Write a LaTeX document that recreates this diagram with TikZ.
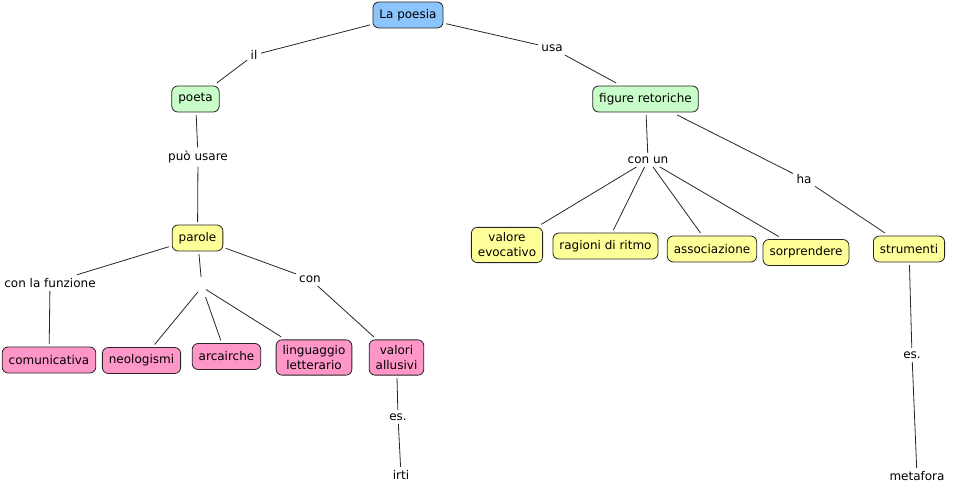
\documentclass[tikz,border=0pt]{standalone}
\usepackage{fontspec}
\setmainfont{DejaVu Sans}
\definecolor{cblue}{RGB}{140,196,252}
\definecolor{cgreen}{RGB}{200,252,200}
\definecolor{cyellow}{RGB}{255,255,153}
\definecolor{cpink}{RGB}{255,150,200}
\tikzset{
  concept/.style={draw=black!85, line width=0.8pt, rounded corners=6pt, inner xsep=6.5pt, inner ysep=5.5pt,
    minimum height=26pt, align=center, font=\fontsize{12}{15}\selectfont, outer sep=3pt},
  lbl/.style={inner sep=1.5pt, outer sep=2pt, font=\fontsize{12}{14.5}\selectfont},
  link/.style={draw=black!85, line width=0.8pt},
}
\begin{document}
\begin{tikzpicture}[x=1pt,y=-1pt]
\useasboundingbox (0,0) rectangle (954,490);
% concepts
\node[concept, fill=cblue] (poesia) at (408,15) {La poesia};
\node[concept, fill=cgreen] (poeta) at (195.5,99) {poeta};
\node[concept, fill=cgreen] (figure) at (645.5,99) {figure retoriche};
\node[concept, fill=cyellow] (parole) at (197.5,238) {parole};
\node[concept, fill=cpink] (comun) at (49,360) {comunicativa};
\node[concept, fill=cpink] (neo) at (141.5,360.5) {neologismi};
\node[concept, fill=cpink] (arca) at (226.5,356.5) {arcairche};
\node[concept, fill=cpink] (lingu) at (314,357.5) {linguaggio\\ letterario};
\node[concept, fill=cpink] (valori) at (396.5,357.5) {valori\\allusivi};
\node[concept, fill=cyellow] (evoc) at (507,245) {valore\\evocativo};
\node[concept, fill=cyellow] (ritmo) at (605.5,246) {ragioni di ritmo};
\node[concept, fill=cyellow] (assoc) at (712,249) {associazione};
\node[concept, fill=cyellow] (sorpr) at (806,252.5) {sorprendere};
\node[concept, fill=cyellow] (strum) at (909,249) {strumenti};
\node[lbl] (irti) at (401,475) {irti};
\node[lbl] (metafora) at (917,476) {metafora};
% linking phrases
\node[lbl] (il) at (254,55) {il};
\node[lbl] (usa) at (552,48) {usa};
\node[lbl] (puo) at (198,157) {può usare};
\node[lbl] (funz) at (50,283) {con la funzione};
\node[lbl, minimum width=4pt, minimum height=16pt] (vuoto) at (202,287) {};
\node[lbl] (con) at (310,279) {con};
\node[lbl] (es1) at (398,417) {es.};
\node[lbl] (conun) at (648,160) {con un};
\node[lbl] (ha) at (804,179) {ha};
\node[lbl] (es2) at (912,355) {es.};
% connectors
\draw[link] (poesia) -- (il) -- (poeta);
\draw[link] (poesia) -- (usa) -- (figure);
\draw[link] (poeta) -- (puo) -- (parole);
\draw[link] (parole) -- (funz) -- (comun);
\draw[link] (parole) -- (vuoto);
\draw[link] (vuoto) -- (neo);
\draw[link] (vuoto) -- (arca);
\draw[link] (vuoto) -- (lingu);
\draw[link] (parole) -- (con) -- (valori);
\draw[link] (valori) -- (es1) -- (irti);
\draw[link] (figure) -- (conun);
\draw[link] (conun) -- (evoc);
\draw[link] (conun) -- (ritmo);
\draw[link] (conun) -- (assoc);
\draw[link] (conun) -- (sorpr);
\draw[link] (figure) -- (ha) -- (strum);
\draw[link] (strum) -- (es2) -- (metafora);
\end{tikzpicture}
\end{document}
